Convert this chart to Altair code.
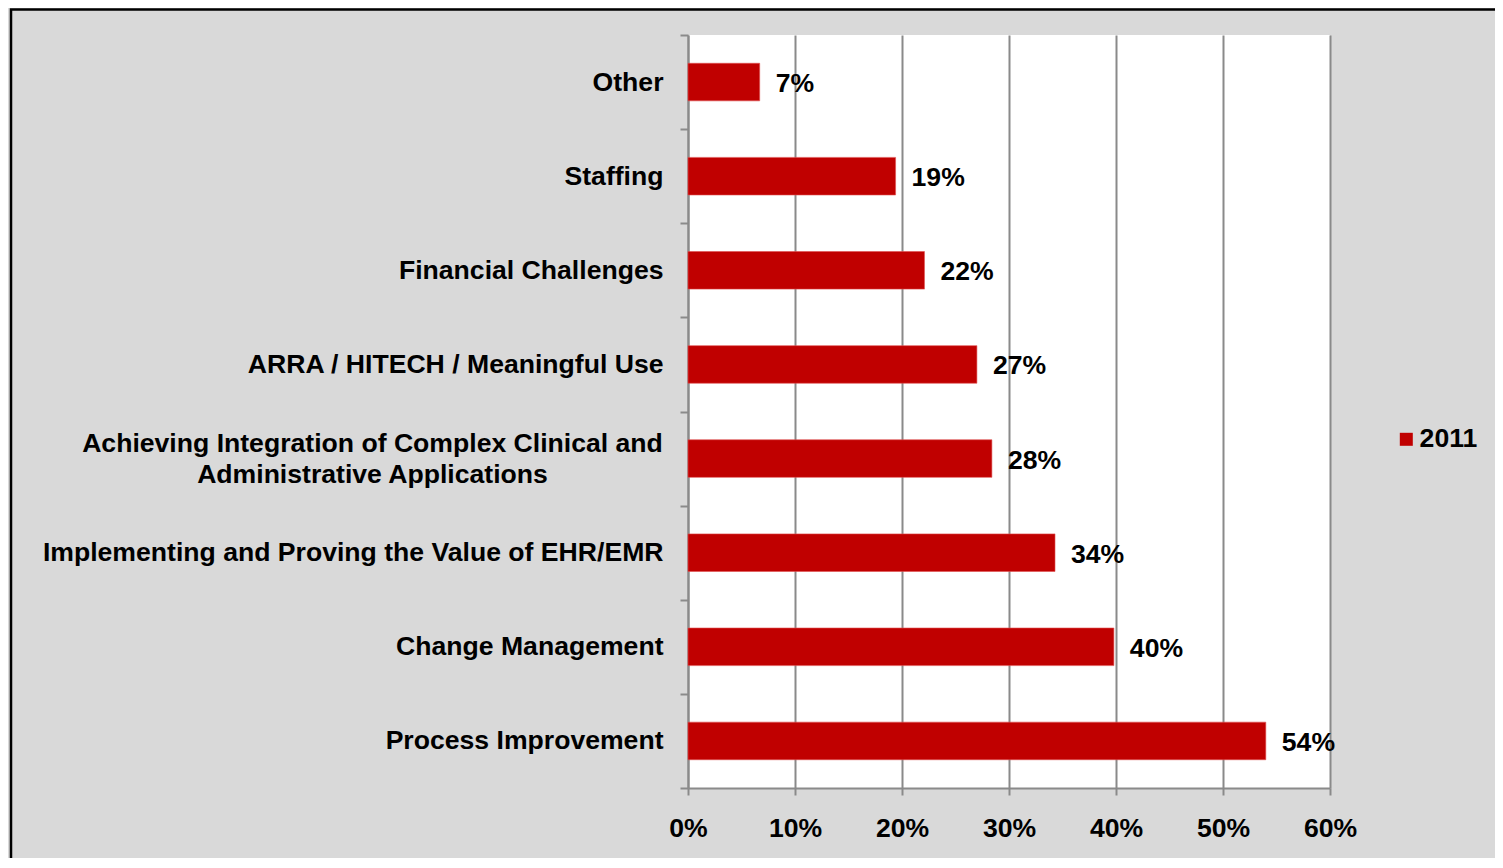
import altair as alt
import pandas as pd

categories = [
    "Other",
    "Staffing",
    "Financial Challenges",
    "ARRA / HITECH / Meaningful Use",
    "Achieving Integration of Complex Clinical and Administrative Applications",
    "Implementing and Proving the Value of EHR/EMR",
    "Change Management",
    "Process Improvement",
]
values = [0.067, 0.194, 0.221, 0.270, 0.284, 0.343, 0.398, 0.540]
series = ["2011"] * len(categories)
x_ticks = [0, 0.1, 0.2, 0.3, 0.4, 0.5, 0.6]

LONG = "Achieving Integration of Complex Clinical and Administrative Applications"
LONG_LINES = ["Achieving Integration of Complex Clinical and", "Administrative Applications"]

df = pd.DataFrame({"category": categories, "value": values, "year": series})

FONT = "Liberation Sans, Arial, sans-serif"
FS = 26.6
GRID = "#8a8a8a"
RED = "#c00000"
IS_LONG = f"datum.value == '{LONG}'"

y_enc = alt.Y(
    "category:N",
    sort=categories,
    scale=alt.Scale(paddingInner=0, paddingOuter=0),
    axis=alt.Axis(
        title=None,
        labelFont=FONT,
        labelFontSize=FS,
        labelFontWeight="bold",
        labelColor="black",
        labelLimit=1000,
        labelLineHeight=31,
        labelExpr=f"{IS_LONG} ? ['{LONG_LINES[0]}', '{LONG_LINES[1]}'] : datum.label",
        labelAlign={"condition": {"test": IS_LONG, "value": "center"}, "value": "right"},
        labelPadding={"condition": {"test": IS_LONG, "value": 308}, "value": 17},
        labelOffset={"condition": {"test": IS_LONG, "value": -15.5}, "value": 0},
        tickBand="extent",
        tickSize=8,
        tickColor=GRID,
        tickWidth=2,
        domainColor=GRID,
        domainWidth=2,
        grid=False,
    ),
)

x_enc = alt.X(
    "value:Q",
    scale=alt.Scale(domain=[0, 0.6], nice=False),
    axis=alt.Axis(
        title=None,
        values=x_ticks,
        format=".0%",
        labelFont=FONT,
        labelFontSize=FS,
        labelFontWeight="bold",
        labelColor="black",
        labelFlush=False,
        labelPadding=20,
        tickSize=7,
        tickColor=GRID,
        tickWidth=2,
        domainColor=GRID,
        domainWidth=2,
        grid=True,
        gridColor=GRID,
        gridWidth=2,
    ),
)

bars = alt.Chart(df).mark_bar(size=37.6, stroke="#e05050", strokeWidth=0.6).encode(
    x=x_enc,
    y=y_enc,
    color=alt.Color(
        "year:N",
        scale=alt.Scale(domain=["2011"], range=[RED]),
        legend=alt.Legend(
            title=None,
            orient="none",
            legendX=705,
            legendY=391,
            padding=0,
            symbolType="square",
            symbolSize=169,
            symbolStrokeWidth=0,
            labelFont=FONT,
            labelFontSize=FS,
            labelFontWeight="bold",
            labelColor="black",
            labelOffset=0,
        ),
    ),
)

labels = alt.Chart(df).mark_text(
    align="left", baseline="middle", dx=16, dy=2,
    font=FONT, fontSize=FS, fontWeight="bold", color="black",
).encode(
    x=alt.X("value:Q"),
    y=alt.Y("category:N", sort=categories),
    text=alt.Text("value:Q", format=".0%"),
)

border = alt.Chart(alt.Data(values=[{}])).mark_rect(
    fill=None, fillOpacity=0, stroke="black", strokeWidth=2.5
).encode(
    x=alt.value(-677), x2=alt.value(2000), y=alt.value(-25.5), y2=alt.value(2000)
)

chart = alt.layer(bars, labels, border).properties(
    width=642,
    height=753,
    background="#d9d9d9",
    padding={"left": 680, "top": 27, "right": 165, "bottom": 70},
    autosize=alt.AutoSizeParams(type="none"),
).configure_view(stroke=None, fill="white")

chart.save("out.html", embed_options={"renderer": "svg", "actions": False})
